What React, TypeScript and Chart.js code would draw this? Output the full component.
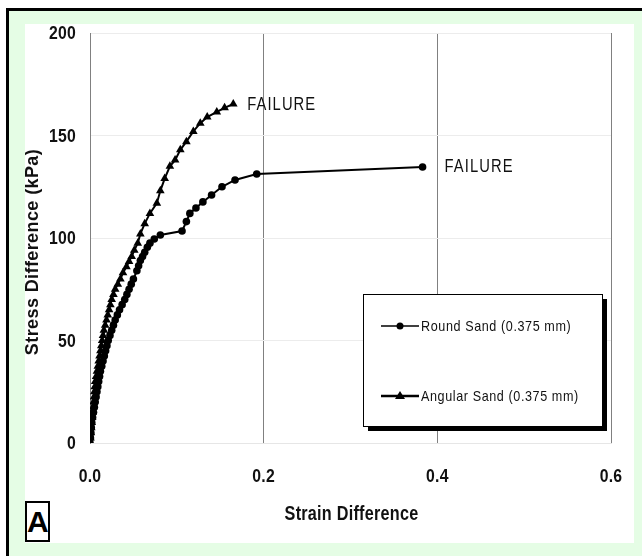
import React, { useEffect, useRef } from "react";
import { Chart, registerables } from "chart.js";

Chart.register(...registerables);

// ---- Data ----
const roundStrain = [
  0, 0.0005, 0.001, 0.0015, 0.002, 0.003, 0.004, 0.005, 0.006, 0.007, 0.008, 0.009, 0.010, 0.011, 0.012,
  0.0135, 0.015, 0.0165, 0.018, 0.0195, 0.021, 0.023, 0.025, 0.027, 0.029, 0.0315, 0.034, 0.037, 0.040,
  0.0425, 0.045, 0.0475, 0.050, 0.054, 0.056, 0.058, 0.0605, 0.063, 0.066, 0.069, 0.074, 0.081,
  0.106, 0.111, 0.115, 0.122, 0.130, 0.140, 0.152, 0.167, 0.192, 0.383,
];
const roundStress = [
  0, 2.5, 5, 7.5, 10, 12.5, 15, 17.5, 20, 22.5, 25, 27.5, 30, 32.5, 35,
  37.5, 40, 42.5, 45, 47.5, 50, 52.5, 55, 57.5, 60, 62.5, 65, 67.5, 70,
  72.5, 75, 77.5, 80, 84, 86.5, 89, 91, 93, 95.5, 97.5, 99.5, 101.5,
  103.4, 108, 112, 114.6, 117.6, 121, 125, 128.3, 131.2, 134.6,
];

const angularStrain = [
  0, 0.0005, 0.001, 0.0015, 0.002, 0.0025, 0.003, 0.0035, 0.004, 0.0045, 0.005, 0.0055, 0.006,
  0.007, 0.008, 0.009, 0.010, 0.011, 0.012, 0.013, 0.014, 0.015, 0.016,
  0.0175, 0.019, 0.0205, 0.022, 0.0235, 0.025, 0.027, 0.029, 0.032, 0.035,
  0.038, 0.042, 0.045, 0.048, 0.051, 0.055,
  0.058, 0.063, 0.069, 0.077, 0.081, 0.086, 0.092, 0.098, 0.104, 0.111, 0.119, 0.127, 0.135, 0.146, 0.155, 0.165,
];
const angularStress = [
  0, 2.5, 5, 7.5, 10, 12.5, 15, 17.5, 20, 22.5, 25, 27.5, 30,
  32.5, 35, 37.5, 40, 42.5, 45, 47.5, 50, 52.5, 55,
  57.5, 60, 62.5, 65, 67.5, 70, 72.5, 75, 77.5, 80,
  83, 86, 88.5, 91, 94, 97.5,
  102, 107, 112, 117, 123, 129, 135, 138, 143, 147, 152, 156, 159, 161.5, 163.5, 165.4,
];

const seriesNames = ["Round Sand (0.375 mm)", "Angular Sand (0.375 mm)"];
const xTicks = [0, 0.2, 0.4, 0.6];
const yTicks = [0, 50, 100, 150, 200];
const xTitle = "Strain Difference";
const yTitle = "Stress Difference (kPa)";
const failureText = "FAILURE";

const SANS = '"Liberation Sans", Arial, sans-serif';

function toPoints(xs: number[], ys: number[]) {
  return xs.map((x, i) => ({ x, y: ys[i] }));
}

function drawText(
  ctx: CanvasRenderingContext2D,
  text: string,
  x: number,
  y: number,
  font: string,
  align: CanvasTextAlign,
  sx: number,
  spacing: number
) {
  ctx.save();
  ctx.translate(x, y);
  ctx.scale(sx, 1);
  ctx.font = font;
  (ctx as any).letterSpacing = spacing + "px";
  ctx.textAlign = align;
  ctx.textBaseline = "middle";
  ctx.fillStyle = "#111";
  ctx.fillText(text, 0, 0);
  ctx.restore();
}

const overlayPlugin = {
  id: "overlay",
  afterDatasetsDraw(chart: any) {
    const ctx = chart.ctx as CanvasRenderingContext2D;
    const xs = chart.scales.x;
    const ys = chart.scales.y;
    ctx.save();

    // Tick labels (narrow bold look)
    const tickFont = `bold 19px ${SANS}`;
    xTicks.forEach((v) => {
      drawText(ctx, v.toFixed(1), xs.getPixelForValue(v), 477, tickFont, "center", 0.83, 0.3);
    });
    yTicks.forEach((v) => {
      drawText(ctx, String(v), 76, ys.getPixelForValue(v) + 1, tickFont, "right", 0.83, 0.3);
    });

    // FAILURE labels next to last point of each series
    const aLast = angularStrain.length - 1;
    const rLast = roundStrain.length - 1;
    const fFont = `18px ${SANS}`;
    drawText(ctx, failureText, xs.getPixelForValue(angularStrain[aLast]) + 14, ys.getPixelForValue(angularStress[aLast]) + 1, fFont, "left", 0.82, 1.3);
    drawText(ctx, failureText, xs.getPixelForValue(roundStrain[rLast]) + 22, ys.getPixelForValue(roundStress[rLast]), fFont, "left", 0.82, 1.3);

    // Legend box with shadow
    const bx = 363, by = 294, bw = 239, bh = 132;
    ctx.fillStyle = "#000";
    ctx.fillRect(bx + 5, by + 5, bw, bh);
    ctx.fillStyle = "#fff";
    ctx.fillRect(bx, by, bw, bh);
    ctx.strokeStyle = "#000";
    ctx.lineWidth = 1;
    ctx.strokeRect(bx + 0.5, by + 0.5, bw, bh);

    const entries = [
      { y: 326, lw: 1.5, style: "circle" },
      { y: 396, lw: 2.5, style: "triangle" },
    ];
    entries.forEach((e, i) => {
      ctx.strokeStyle = "#000";
      ctx.lineWidth = e.lw;
      ctx.beginPath();
      ctx.moveTo(381, e.y);
      ctx.lineTo(419, e.y);
      ctx.stroke();
      ctx.fillStyle = "#000";
      ctx.beginPath();
      if (e.style === "circle") {
        ctx.arc(400, e.y, 3.5, 0, Math.PI * 2);
      } else {
        ctx.moveTo(400, e.y - 5);
        ctx.lineTo(405, e.y + 3);
        ctx.lineTo(395, e.y + 3);
        ctx.closePath();
      }
      ctx.fill();
      drawText(ctx, seriesNames[i], 421, e.y + 1, `15px ${SANS}`, "left", 0.84, 0.7);
    });

    // Axis titles
    drawText(ctx, xTitle, (xs.left + xs.right) / 2 + 1, 514, `bold 20px ${SANS}`, "center", 0.81, 0.3);

    ctx.translate(33, 252);
    ctx.rotate(-Math.PI / 2);
    drawText(ctx, yTitle, 0, 0, `bold 18px ${SANS}`, "center", 1, 0.4);
    ctx.restore();
  },
};

export default function App() {
  const canvasRef = useRef<HTMLCanvasElement | null>(null);

  useEffect(() => {
    if (!canvasRef.current) return;
    const chart = new Chart(canvasRef.current, {
      type: "scatter",
      data: {
        datasets: [
          {
            label: seriesNames[0],
            data: toPoints(roundStrain, roundStress),
            showLine: true,
            borderColor: "#000",
            backgroundColor: "#000",
            borderWidth: 2,
            pointStyle: "circle",
            pointRadius: 3.8,
            pointBorderWidth: 0,
            tension: 0,
          },
          {
            label: seriesNames[1],
            data: toPoints(angularStrain, angularStress),
            showLine: true,
            borderColor: "#000",
            backgroundColor: "#000",
            borderWidth: 2,
            pointStyle: "triangle",
            pointRadius: 5,
            pointBorderWidth: 0,
            tension: 0,
          },
        ],
      },
      options: {
        responsive: false,
        maintainAspectRatio: false,
        animation: false,
        layout: { padding: { left: 0, top: 33, right: 31, bottom: 0 } },
        plugins: {
          legend: { display: false },
          tooltip: { enabled: false },
          title: { display: false },
        },
        scales: {
          x: {
            type: "linear",
            min: 0,
            max: 0.6,
            afterBuildTicks: (s: any) => {
              s.ticks = xTicks.map((v) => ({ value: v }));
            },
            afterFit: (s: any) => {
              s.height = 113;
            },
            ticks: { display: false },
            grid: { color: "#808080", lineWidth: 1, drawTicks: false },
            border: { display: true, color: "#e6e6e6" },
          },
          y: {
            type: "linear",
            min: 0,
            max: 200,
            afterBuildTicks: (s: any) => {
              s.ticks = yTicks.map((v) => ({ value: v }));
            },
            afterFit: (s: any) => {
              s.width = 90;
            },
            ticks: { display: false },
            grid: { color: "#ececec", lineWidth: 1, drawTicks: false },
            border: { display: true, color: "#808080" },
          },
        },
      },
      plugins: [overlayPlugin],
    });
    return () => chart.destroy();
  }, []);

  return (
    <div style={{ position: "absolute", left: 0, top: 0, width: 642, height: 556, background: "#fff", overflow: "hidden" }}>
      <div style={{ position: "absolute", left: 6, top: 8, width: 660, height: 570, background: "#e5fde5", borderLeft: "3px solid #000", borderTop: "3px solid #000" }} />
      <div style={{ position: "absolute", left: 25, top: 24, width: 609, height: 519, background: "#fff" }} />
      <canvas ref={canvasRef} width={642} height={556} style={{ position: "absolute", left: 0, top: 0, width: 642, height: 556 }} />
      <div style={{ position: "absolute", left: 25, top: 501, width: 21, height: 37, border: "2px solid #000", background: "#fff", fontFamily: SANS, fontWeight: "bold", fontSize: 30, lineHeight: "37px", textAlign: "center", color: "#000" }}>A</div>
    </div>
  );
}
